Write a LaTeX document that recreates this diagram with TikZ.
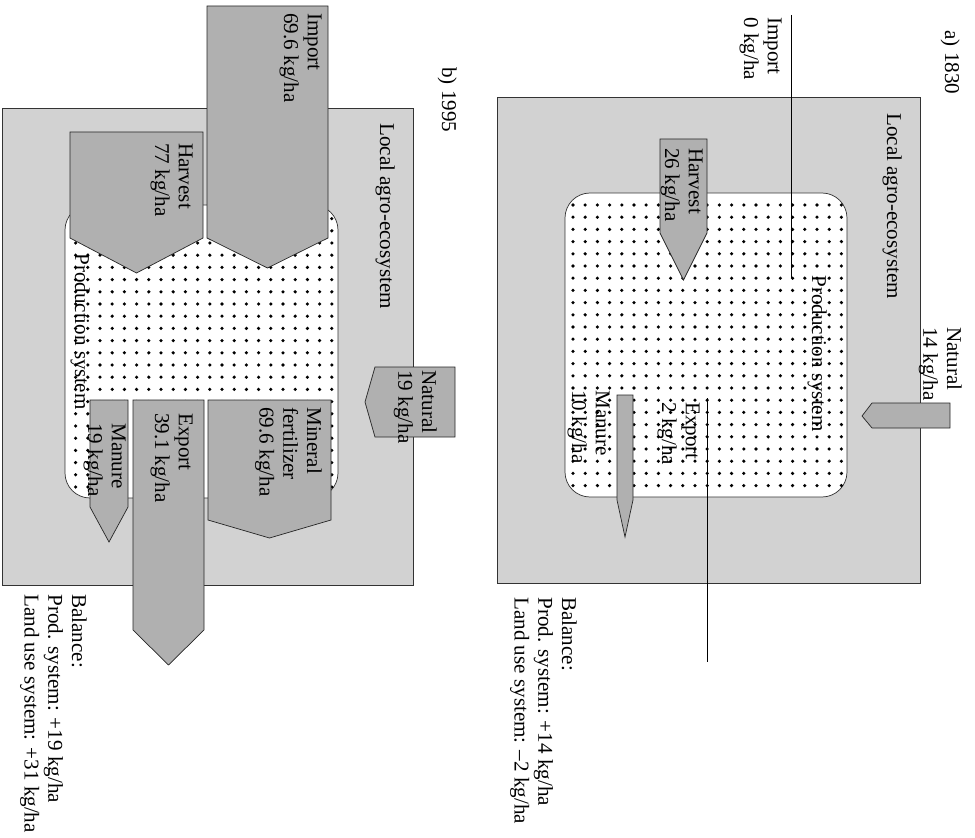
\documentclass[tikz,border=0pt]{standalone}
\usepackage{fontspec}
\setmainfont{Liberation Serif}

\tikzset{
  landuse/.style={draw=black!80, fill=gray!35},
  prodsys/.style={draw=black!80, fill=white, rounded corners=0.5cm},
  flow/.style={draw=black!85, fill=gray!62},
  txt/.style={rotate=-90, anchor=north west, align=left, inner sep=0pt,
              font=\fontsize{12}{13.5}\selectfont},
}

% flujo vertical: x1, x2, arriba, fin del cuerpo, punta
\newcommand{\flowdown}[5]{%
  \draw[flow] (#1,#3) -- (#2,#3) -- (#2,#4) -- ({(#1+#2)/2},#5) -- (#1,#4) -- cycle;}

\begin{document}
\begin{tikzpicture}[x=0.02cm, y=-0.02cm]
    \useasboundingbox (0,0) rectangle (975,838);

    % --- A) 1830 ---
    \draw[landuse] (497,97) rectangle (920,583);
    \draw[prodsys] (565,193) rectangle (847,497);
    \begin{scope}
        \clip[rounded corners=0.5cm] (565,193) rectangle (847,497);
        \foreach \i in {0,...,22}
            \foreach \j in {0,...,23}
                \fill (573+12.2*\i, 205+12.2*\j) circle (1pt);
    \end{scope}

    % Flujos
    \coordinate (impA) at (791,15);
    \coordinate (impAend) at (791,278);
    \draw (impA) -- (impAend);
    \coordinate (expA) at (707,398);
    \coordinate (expAend) at (707,662);
    \draw (expA) -- (expAend);
    \flowdown{660}{707}{139}{233}{280}
    \flowdown{617}{633}{395}{500}{537}
    \draw[flow] (950,403) -- (872,403) -- (862,416) -- (872,428) -- (950,428) -- cycle;

    % Textos
    \node[txt] (titA)  at (960,30)  {a) 1830};
    \node[txt] (impAt) at (782,17)  {Import\\0 kg/ha};
    \node[txt] (locA)  at (902,113) {Local agro-ecosystem};
    \node[txt] (proA)  at (827,275) {Production system};
    \node[txt] (harA)  at (703,148) {Harvest\\26 kg/ha};
    \node[txt] (natA)  at (962,327) {Natural\\14 kg/ha};
    \node[txt] (expAt) at (700,402) {Export\\2 kg/ha};
    \node[txt] (manA)  at (610,390) {Manure\\10 kg/ha};
    \node[txt] (balA)  at (577,597) {Balance:\\Prod. system: +14 kg/ha\\Land use system: --2 kg/ha};

    % --- B) 1995 ---
    \draw[landuse] (2,108) rectangle (413,585);
    \draw[prodsys] (65,205) rectangle (338,498);
    \begin{scope}
        \clip[rounded corners=0.5cm] (65,205) rectangle (338,498);
        \foreach \i in {0,...,21}
            \foreach \j in {0,...,23}
                \fill (75.6+12.2*\i, 206.4+12.2*\j) circle (1pt);
    \end{scope}

    % Flujos
    \flowdown{207}{328}{6}{238}{268}
    \flowdown{70}{203}{132}{238}{273}
    \flowdown{208}{331}{400}{520}{538}
    \flowdown{133}{204}{400}{630}{665}
    \flowdown{90}{128}{400}{507}{542}
    \draw[flow] (455,367) -- (375,367) -- (365,402) -- (375,437) -- (455,437) -- cycle;

    % Textos
    \node[txt] (titB)  at (457,67)  {b) 1995};
    \node[txt] (impBt) at (322,13)  {Import\\69.6 kg/ha};
    \node[txt] (locB)  at (395,123) {Local agro-ecosystem};
    \node[txt] (harB)  at (193,143) {Harvest\\77 kg/ha};
    \node[txt] (proB)  at (90,253)  {Production system};
    \node[txt] (natB)  at (437,370) {Natural\\19 kg/ha};
    \node[txt] (minB)  at (322,407) {Mineral\\fertilizer\\69.6 kg/ha};
    \node[txt] (expBt) at (193,413) {Export\\39.1 kg/ha};
    \node[txt] (manB)  at (126,423) {Manure\\19 kg/ha};
    \node[txt] (balB)  at (87,594)  {Balance:\\Prod. system: +19 kg/ha\\Land use system: +31 kg/ha};

\end{tikzpicture}
\end{document}
